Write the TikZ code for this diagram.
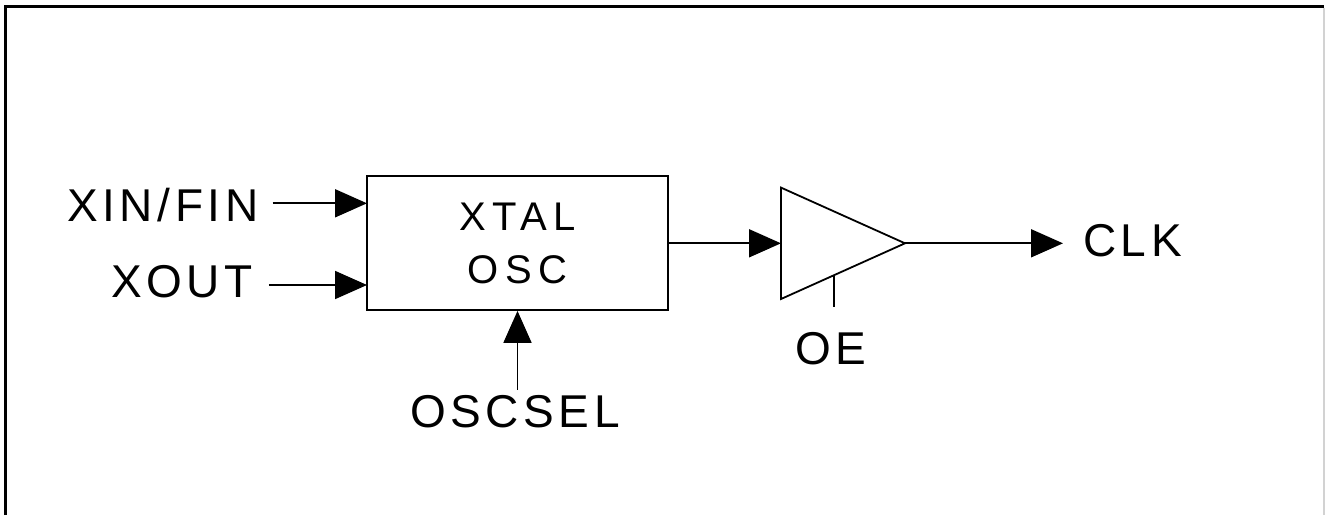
\documentclass[tikz,border=0pt]{standalone}
\usepackage{fontspec}
\setmainfont{Liberation Sans}
\newfontfamily\pinfont[LetterSpace=10]{Liberation Sans}
\newfontfamily\blockfont[LetterSpace=16]{Liberation Sans}
\usetikzlibrary{arrows.meta, calc}

\begin{document}
\begin{tikzpicture}[x=1pt, y=-1pt,
  pin/.style={font={\pinfont\fontsize{46}{50}\selectfont}, inner sep=0pt, anchor=base west},
  block/.style={rectangle, draw=black, line width=1.8pt, minimum width=301pt, minimum height=134pt,
    align=center, font={\blockfont\fontsize{40}{53}\selectfont}},
  wire/.style={line width=1.8pt},
  arrow/.style={wire, -{Triangle[length=32pt, width=28pt]}}
]

% frame
\useasboundingbox (0,0) rectangle (1325,515);
\draw[line width=2.5pt] (5.5,515) -- (5.5,6.5) -- (1324,6.5);
\draw[gray!35, line width=1.5pt] (1324,7.5) -- (1324,515);

% oscillator block and pins
\node (osc) [block] at (517.5,243) {XTAL\\OSC};
\node (xin) [pin] at (67,221) {XIN/FIN};
\node (xout) [pin] at (111,297) {XOUT};
\node (oscsel) [pin] at (410,427) {OSCSEL};
\node (oe) [pin] at (795,364) {OE};
\node (clk) [pin] at (1083,256) {CLK};

\coordinate (in1) at (367,203.3);
\coordinate (in2) at (367,285);

% output buffer
\coordinate (buftop) at (781,187.6);
\coordinate (bufin) at (781,243.3);
\coordinate (bufbot) at (781,299);
\coordinate (bufout) at (905,243.3);
\coordinate (oetap) at (834,275.2);
\draw[wire, line join=miter] (buftop) -- (bufout) -- (bufbot) -- cycle;

% connections
\draw [arrow] ([xshift=14pt]xin.east |- in1) -- (in1);
\draw [arrow] ([xshift=16pt]xout.east |- in2) -- (in2);
\draw [arrow] ([yshift=5pt]oscsel.north -| osc.south) -- (osc.south);
\draw [arrow] (osc.east |- bufin) -- (bufin);
\draw [arrow] (bufout) -- ([xshift=-20pt]clk.west |- bufout);
\draw [wire] (oetap) -- ++(0,32);

\end{tikzpicture}
\end{document}
